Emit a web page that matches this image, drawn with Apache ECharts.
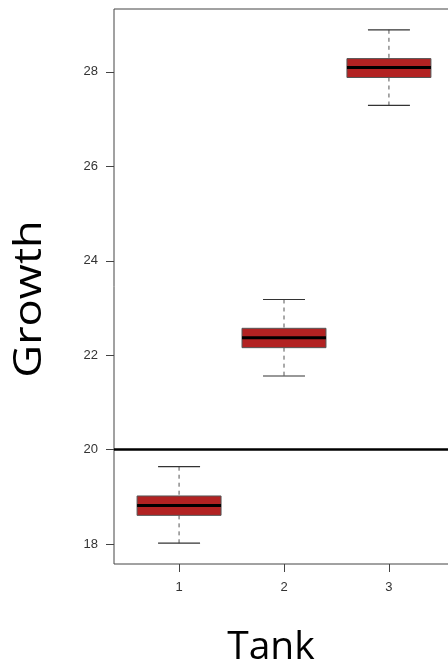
<!DOCTYPE html>
<html><head><meta charset="utf-8">
<script src="https://cdn.jsdelivr.net/npm/echarts@6/dist/echarts.min.js"></script>
<style>html,body{margin:0;padding:0;background:#fff;}#c{width:448px;height:671px;}</style>
</head><body><div id="c"></div>
<script>
const categories = [1, 2, 3];
const whiskerLow = [18.02, 21.56, 27.29];
const q1 = [18.61, 22.16, 27.88];
const median = [18.82, 22.37, 28.09];
const q3 = [19.02, 22.57, 28.28];
const whiskerHigh = [19.64, 23.18, 28.89];
const yTicks = [18, 20, 22, 24, 26, 28];
const xTicks = [1, 2, 3];
const refLine = 20;

const data = categories.map((c, i) => [c, whiskerLow[i], q1[i], median[i], q3[i], whiskerHigh[i]]);

const chart = echarts.init(document.getElementById('c'), null, {renderer: 'canvas'});
chart.setOption({
  animation: false,
  grid: {left: 114, top: 9, width: 340, height: 555, outerBoundsMode: 'none', containLabel: false,
         show: true, borderColor: '#444', borderWidth: 1, backgroundColor: 'transparent'},
  xAxis: {
    type: 'value', min: 0.38, max: 3.62,
    axisLine: {show: false},
    splitLine: {show: false},
    axisTick: {show: true, customValues: xTicks, length: 8, lineStyle: {color: '#444'}},
    axisLabel: {customValues: xTicks, margin: 17, color: '#333', fontSize: 13, fontFamily: 'Liberation Sans'}
  },
  yAxis: {
    type: 'value', min: 17.58, max: 29.33,
    axisLine: {show: false},
    splitLine: {show: false},
    axisTick: {show: true, customValues: yTicks, length: 8, lineStyle: {color: '#444'}},
    axisLabel: {customValues: yTicks, margin: 16, color: '#333', fontSize: 13, fontFamily: 'Liberation Sans'}
  },
  graphic: [
    {type: 'text', x: 30, y: 299, rotation: Math.PI / 2, scaleX: 1.16,
     style: {text: 'Growth', font: '39px "Open Sans"', fill: '#000', align: 'center', verticalAlign: 'middle'}},
    {type: 'text', x: 271, y: 648,
     style: {text: 'Tank', font: '39px "Open Sans"', fill: '#000', align: 'center', verticalAlign: 'middle'}}
  ],
  series: [{
    type: 'custom',
    data: data,
    encode: {x: 0, y: [1, 2, 3, 4, 5]},
    renderItem: function (params, api) {
      const x = api.value(0);
      const lo = api.coord([x, api.value(1)]);
      const b1 = api.coord([x, api.value(2)]);
      const md = api.coord([x, api.value(3)]);
      const b3 = api.coord([x, api.value(4)]);
      const hi = api.coord([x, api.value(5)]);
      const bw = api.size([0.8, 0])[0];
      const cw = api.size([0.4, 0])[0];
      const cx = lo[0];
      const dash = {stroke: '#555', lineWidth: 1, lineDash: [4, 4]};
      const cap = {stroke: '#333', lineWidth: 1.2};
      return {type: 'group', children: [
        {type: 'line', shape: {x1: cx, y1: hi[1], x2: cx, y2: b3[1]}, style: dash},
        {type: 'line', shape: {x1: cx, y1: b1[1], x2: cx, y2: lo[1]}, style: dash},
        {type: 'line', shape: {x1: cx - cw / 2, y1: hi[1], x2: cx + cw / 2, y2: hi[1]}, style: cap},
        {type: 'line', shape: {x1: cx - cw / 2, y1: lo[1], x2: cx + cw / 2, y2: lo[1]}, style: cap},
        {type: 'rect', shape: {x: cx - bw / 2, y: b3[1], width: bw, height: b1[1] - b3[1]},
         style: {fill: '#B22222', stroke: '#555', lineWidth: 1}},
        {type: 'line', shape: {x1: cx - bw / 2, y1: md[1], x2: cx + bw / 2, y2: md[1]}, style: {stroke: '#000', lineWidth: 3}}
      ]};
    },
    markLine: {
      silent: true, symbol: 'none', label: {show: false},
      lineStyle: {color: '#000', width: 2.5, type: 'solid'},
      data: [{yAxis: refLine}]
    }
  }]
});
</script></body></html>
